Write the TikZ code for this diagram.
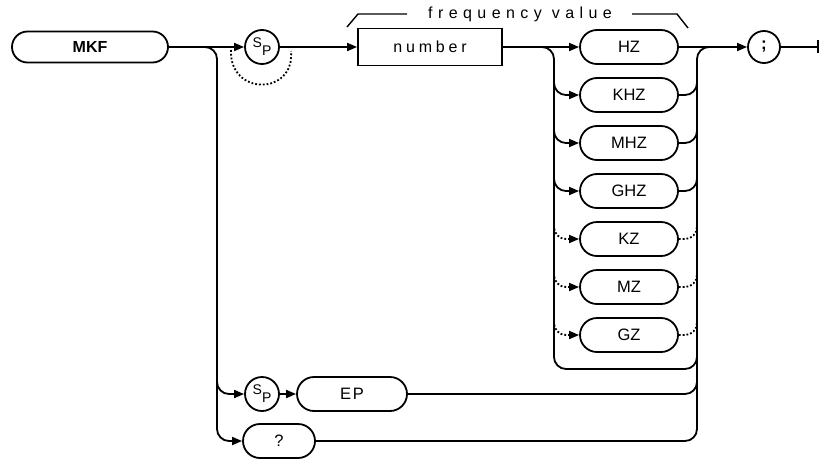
\documentclass[tikz,border=0pt]{standalone}
\usepackage{fontspec}
\setmainfont{Liberation Sans}
\newfontfamily\spaced[LetterSpace=24]{Liberation Sans}
\newfontfamily\spacedfv[LetterSpace=34]{Liberation Sans}
\newfontfamily\spacedb[LetterSpace=10]{Liberation Sans}
\usetikzlibrary{arrows.meta,shapes.misc}
\begin{document}
\begin{tikzpicture}[x=1pt,y=-1pt, line width=1.8pt,
  term/.style={draw, rounded rectangle, minimum height=34pt, inner sep=0pt, font=\fontsize{16.5}{16.5}\selectfont},
  spc/.style={draw, circle, minimum size=34pt, inner sep=0pt, font=\fontsize{14}{14}\selectfont},
  arr/.style={-{Triangle[length=10pt,width=8pt]}},
  dots/.style={dotted, line width=1.8pt},
  rc/.style={rounded corners=12pt},
]
\useasboundingbox (0,0) rectangle (821,460);
% nodes
\node[term, minimum width=156pt, minimum height=31pt, font=\bfseries\fontsize{16}{16}\selectfont] (mkf) at (90,47) {MKF};
\node[spc] (sp1) at (262,47) {\raisebox{3pt}{S}\raisebox{-5pt}{P}};
\node[draw, minimum width=144pt, minimum height=37pt, inner sep=0pt, font=\spaced\fontsize{16}{16}\selectfont] (num) at (430,47) {number\hspace{18pt}};
\node[term, minimum width=98pt] (hz)  at (629,47)  {HZ};
\node[term, minimum width=98pt] (khz) at (629,95)  {KHZ};
\node[term, minimum width=98pt] (mhz) at (629,143) {MHZ};
\node[term, minimum width=98pt] (ghz) at (629,191) {GHZ};
\node[term, minimum width=98pt] (kz)  at (629,239) {KZ};
\node[term, minimum width=98pt] (mz)  at (629,287) {MZ};
\node[term, minimum width=98pt] (gz)  at (629,335) {GZ};
\node[spc] (sp2) at (262,394) {\raisebox{3pt}{S}\raisebox{-5pt}{P}};
\node[term, minimum width=110pt, font=\spacedb\fontsize{16.5}{16.5}\selectfont] (ep) at (352,394) {EP};
\node[term, minimum width=72pt] (q) at (279,441) {?};
\node[spc, minimum size=32pt, font=\bfseries\fontsize{17}{17}\selectfont] (semi) at (764,47) {;};
\node[font=\spacedfv\fontsize{16}{16}\selectfont, inner sep=0pt] (fv) at (520,14) {frequency value};
% coordinates
\coordinate (end) at (819,47);
\coordinate (br) at (200,47);
\coordinate (dl) at (231,50);
\coordinate (dr) at (291,51);
\coordinate (lc) at (540,47);
\coordinate (lx) at (554,47);
\coordinate (rx) at (697,47);
\coordinate (rj) at (712,47);
% main line
\draw[arr] (mkf) -- (sp1);
\draw[arr] (sp1) -- (num);
\draw[arr] (num) -- (hz);
\draw[arr] (hz) -- (semi);
\draw[-{Bar[width=13pt]}] (semi) -- (end);
% dotted bypass of SP
\draw[dots] (dl) .. controls (229,96) and (295,96) .. (dr);
% left branch
\draw[arr, rc] (br) -- (217,47) -- (217,441) -- (q);
\draw[arr, rc] (217,370) -- (217,394) -- (sp2);
\draw[arr] (sp2) -- (ep);
% left collector and inner loop
\draw[rc] (lc) -- (lx) -- (554,369) -- (697,369) -- (697,350);
% right collector
\draw[rc] (q) -- (697,441) -- (rx) -- (rj);
\draw[rc] (ep) -- (697,394) -- (697,375);
% unit entries / exits
\foreach \n/\y in {khz/95,mhz/143,ghz/191}{
  \draw[arr, rc] (554,\y-14) -- (554,\y) -- (\n);
  \draw[rc] (\n) -- (697,\y) -- (697,\y-14);
}
\foreach \n/\y in {kz/239,mz/287,gz/335}{
  \draw[dots, arr, rc] (554,\y-14) -- (554,\y) -- (\n);
  \draw[dots, rc] (\n) -- (697,\y) -- (697,\y-14);
}
% frequency value brace
\draw[line width=1.4pt] (347,27) -- (358,14) -- (407,14);
\draw[line width=1.4pt] (632,14) -- (677,14) -- (688,28);
\end{tikzpicture}
\end{document}
